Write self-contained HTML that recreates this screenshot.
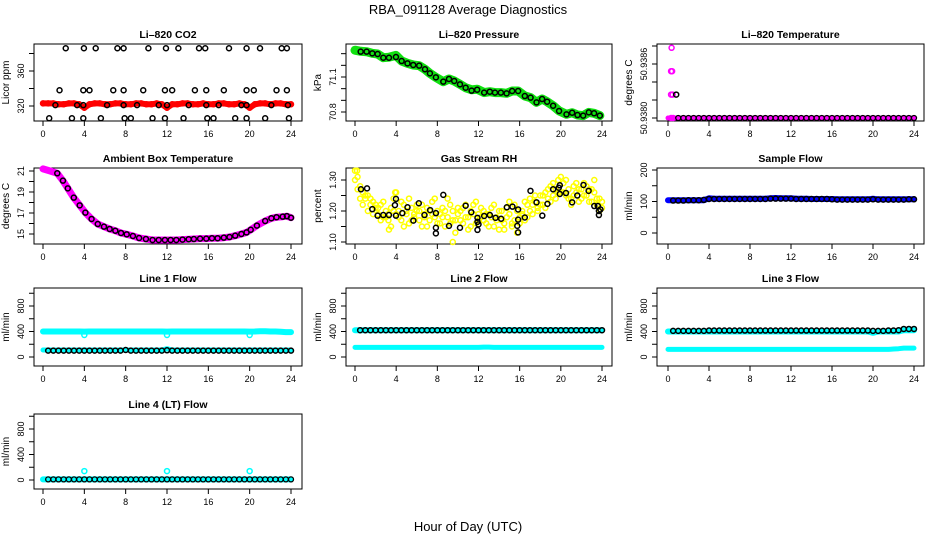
<!DOCTYPE html>
<html><head><meta charset="utf-8"><style>
html,body{margin:0;padding:0;background:#fff;}
svg{display:block;font-family:"Liberation Sans",Arial,sans-serif;}
</style></head><body>
<svg id="chart" width="936" height="540" viewBox="0 0 936 540" xmlns="http://www.w3.org/2000/svg">
<rect width="936" height="540" fill="#fff"/>
<text x="468" y="14" text-anchor="middle" font-size="13">RBA_091128  Average Diagnostics</text>
<text x="468" y="531" text-anchor="middle" font-size="13">Hour of Day (UTC)</text>
</svg>
<script>
const halfHours=[0,0.5,1,1.5,2,2.5,3,3.5,4,4.5,5,5.5,6,6.5,7,7.5,8,8.5,9,9.5,10,10.5,11,11.5,12,12.5,13,13.5,14,14.5,15,15.5,16,16.5,17,17.5,18,18.5,19,19.5,20,20.5,21,21.5,22,22.5,23,23.5,24];
const xTicks=[0,4,8,12,16,20,24];
// CO2
const co2Red=[323,323,323,322,322,323,323,322,318,322,323,323,322,322,323,323,322,322,323,323,322,322,323,322,318,322,322,323,323,322,322,323,322,322,323,323,322,322,323,322,318,322,323,323,322,323,323,322,322];
const co2Times=[2.2,3.96,5.1,7.2,7.8,10.2,11.9,13.1,15.1,15.7,18.0,19.7,21.0,23.1,23.6,1.6,3.9,4.5,6.8,7.8,9.7,11.8,12.5,14.7,15.8,17.5,19.7,20.4,22.6,23.6,0.6,2.8,3.9,5.6,7.9,8.5,10.6,11.8,13.6,15.9,16.5,18.6,19.7,21.5,23.8,1.2,3.3,3.9,6.2,7.8,9.1,11.2,12.0,14.1,15.8,17.0,19.2,19.7,22.1,23.7];
const co2Vals=[386,386,386,386,386,386,386,386,386,386,386,386,386,386,386,338,338,338,338,338,338,338,338,338,338,338,338,338,338,338,306,306,306,306,306,306,306,306,306,306,306,306,306,306,306,321,321,321,321,321,321,321,321,321,321,321,321,321,321,321];
// Pressure
const pTimes=[0.55,1.13,1.68,2.2,2.75,3.3,3.98,4.53,5.1,5.66,6.24,6.8,7.28,7.86,8.58,9.13,9.64,10.2,10.75,11.33,11.87,12.55,13.1,13.6,14.17,14.73,15.27,15.85,16.5,17.06,17.64,18.18,18.67,19.25,19.83,20.55,21.1,21.62,22.17,22.72,23.23,23.79];
const pVals=[71.317,71.317,71.303,71.297,71.265,71.265,71.271,71.237,71.217,71.203,71.197,71.166,71.131,71.097,71.06,71.083,71.066,71.037,71.008,70.983,70.991,70.966,70.974,70.966,70.966,70.96,70.98,70.98,70.937,70.923,70.883,70.911,70.888,70.854,70.809,70.78,70.794,70.774,70.769,70.797,70.789,70.769];
const pGreenTimes=[0,0.55,1.13,1.68,2.2,2.75,3.3,3.98,4.53,5.1,5.66,6.24,6.8,7.28,7.86,8.58,9.13,9.64,10.2,10.75,11.33,11.87,12.55,13.1,13.6,14.17,14.73,15.27,15.85,16.5,17.06,17.64,18.18,18.67,19.25,19.83,20.55,21.1,21.62,22.17,22.72,23.23,23.79];
const pGreenVals=[71.33,71.32,71.317,71.303,71.297,71.265,71.27,71.285,71.237,71.217,71.203,71.197,71.166,71.131,71.097,71.06,71.083,71.066,71.037,71.008,70.99,70.995,70.966,70.974,70.966,70.966,70.96,70.98,70.98,70.937,70.923,70.883,70.911,70.888,70.854,70.809,70.78,70.794,70.774,70.769,70.797,70.789,70.769];
// Li-820 temperature
const tMagTimes=[0.35,0.3,0.4,0.3,0.45,0.3,0.5];
const tMagVals=[50.93878,50.93852,50.93852,50.93826,50.93826,50.9380,50.9380];
const tBlackTimes=[0.8];
const tBlackVals=[50.93826];
// Ambient box temperature
const ambTimes=[0,0.7,1.38,1.93,2.4,2.98,3.55,4.1,4.7,5.3,5.9,6.45,7,7.55,8.1,8.7,9.3,9.96,10.6,11.2,11.8,12.35,12.9,13.5,14.1,14.6,15.2,15.8,16.35,16.9,17.5,18.05,18.6,19.2,19.7,20.1,20.7,21.5,22.1,22.6,23.2,23.6,24];
const ambVals=[21.2,21.0,20.78,20.08,19.35,18.46,17.73,17.03,16.43,15.95,15.7,15.48,15.31,15.1,14.97,14.81,14.62,14.52,14.43,14.43,14.43,14.43,14.43,14.47,14.5,14.52,14.56,14.56,14.6,14.6,14.65,14.71,14.84,15.0,15.15,15.4,15.8,16.24,16.5,16.6,16.65,16.7,16.55];
// Gas stream RH
const quarterHours=[0,0.25,0.5,0.75,1,1.25,1.5,1.75,2,2.25,2.5,2.75,3,3.25,3.5,3.75,4,4.25,4.5,4.75,5,5.25,5.5,5.75,6,6.25,6.5,6.75,7,7.25,7.5,7.75,8,8.25,8.5,8.75,9,9.25,9.5,9.75,10,10.25,10.5,10.75,11,11.25,11.5,11.75,12,12.25,12.5,12.75,13,13.25,13.5,13.75,14,14.25,14.5,14.75,15,15.25,15.5,15.75,16,16.25,16.5,16.75,17,17.25,17.5,17.75,18,18.25,18.5,18.75,19,19.25,19.5,19.75,20,20.25,20.5,20.75,21,21.25,21.5,21.75,22,22.25,22.5,22.75,23,23.25,23.5,23.75,24];
const rhYellowA=[1.33,1.31,1.28,1.26,1.24,1.25,1.22,1.23,1.21,
1.19,1.22,1.18,1.20,1.17,1.21,1.24,1.19,
1.20,1.17,1.22,1.19,1.16,1.21,1.18,1.20,
1.17,1.22,1.19,1.15,1.20,1.23,1.18,1.16,
1.19,1.21,1.15,1.18,1.22,1.17,1.13,1.19,
1.20,1.16,1.22,1.18,1.15,1.19,1.23,1.17,
1.18,1.20,1.16,1.19,1.21,1.15,1.18,1.20,
1.17,1.14,1.21,1.19,1.16,1.22,1.13,1.18,
1.20,1.17,1.22,1.24,1.19,1.23,1.21,1.25,
1.22,1.26,1.24,1.28,1.25,1.27,1.30,1.26,
1.29,1.25,1.27,1.24,1.28,1.26,1.23,1.27,
1.29,1.25,1.27,1.23,1.26,1.22,1.24,1.21];
const rhYellowB=[1.30,1.27,1.24,1.22,1.25,1.20,1.24,1.19,1.22,
1.21,1.17,1.23,1.18,1.19,1.15,1.20,1.26,
1.18,1.23,1.15,1.20,1.24,1.17,1.19,1.22,
1.20,1.15,1.18,1.21,1.17,1.19,1.24,1.20,
1.16,1.18,1.20,1.24,1.16,1.20,1.17,1.21,
1.17,1.21,1.18,1.14,1.20,1.22,1.16,1.19,
1.21,1.17,1.19,1.15,1.18,1.22,1.17,1.14,
1.20,1.16,1.18,1.23,1.15,1.17,1.20,1.16,
1.19,1.23,1.18,1.20,1.22,1.25,1.20,1.22,
1.25,1.21,1.27,1.23,1.29,1.24,1.26,1.31,
1.26,1.30,1.24,1.22,1.25,1.29,1.27,1.24,
1.25,1.28,1.23,1.27,1.30,1.24,1.20,1.23];
const rhOutTimes=[9.5,3.3,3.9,0.2];
const rhOutVals=[1.10,1.14,1.26,1.33];
const rhTimes=[0.58,1.17,1.68,2.2,2.75,3.3,3.88,3.98,3.98,4.6,5.1,5.67,6.2,6.75,7.3,7.86,7.86,7.86,8.58,9.13,10.2,10.75,11.3,11.9,11.9,12,11.9,12.55,13.1,13.65,14.2,14.75,15.3,15.85,15.85,15.77,15.85,16.5,17.05,17.64,18.2,18.7,19.25,19.8,19.9,19.9,20.5,21.1,21.6,22.2,22.7,23.25,23.6,23.7,23.85,23.7];
const rhVals=[1.27,1.273,1.206,1.185,1.187,1.187,1.219,1.239,1.185,1.193,1.212,1.169,1.225,1.187,1.203,1.193,1.146,1.128,1.252,1.152,1.146,1.217,1.196,1.178,1.165,1.157,1.139,1.184,1.187,1.178,1.175,1.212,1.214,1.205,1.172,1.152,1.131,1.179,1.265,1.228,1.185,1.223,1.27,1.275,1.283,1.255,1.258,1.228,1.25,1.284,1.265,1.216,1.216,1.187,1.205,1.2];
// Sample flow
const sfBlue=[104,104,104,104,104,104,104,104,110,109,109,109,109,109,109,109,109,109,109,109,110,111,110,110,110,109,109,109,108,108,108,108,108,107,107,107,107,107,107,107,109,107,107,107,107,107,107,107,107];
const sfBlack=[103,103,103,103,104,104,104,105,108,108,108,108,108,108,108,108,108,108,108,108,109,109,109,109,109,108,108,108,108,108,108,108,107,106,106,106,106,106,106,106,107,106,106,106,106,106,106,107,107];
// Line flows
const l1CyanHi=[400,400,400,400,400,400,400,400,398,400,400,400,400,400,400,400,400,400,400,400,400,400,400,400,398,400,400,400,400,400,400,400,400,400,400,400,400,400,400,400,398,400,405,405,400,400,395,390,390];
const l1CyanLo=[110,110,110,110,110,110,110,110,110,110,110,110,110,110,110,110,110,110,110,110,110,110,110,110,130,110,110,110,110,110,110,110,110,110,110,110,110,110,110,110,110,110,110,110,110,110,110,110,110];
const l1Black=[105,100,100,100,100,100,100,100,100,100,100,100,100,100,100,100,110,100,100,100,100,100,100,100,105,100,100,100,100,100,100,100,100,100,100,100,100,100,100,100,100,100,100,100,100,100,100,100,100];
const l1OutTimes=[4,12,20];
const l1OutVals=[345,345,345];
const l2CyanHi=[420,420,420,420,420,420,420,420,420,420,420,420,420,420,420,420,420,420,420,420,420,420,420,420,420,420,420,420,420,420,420,420,420,420,420,420,420,420,420,420,420,420,420,420,420,420,420,420,420];
const l2CyanLo=[150,150,150,150,150,150,150,150,150,150,150,150,150,150,150,150,150,150,150,150,150,150,150,150,150,155,155,150,150,150,150,150,150,150,150,150,150,150,150,150,150,150,150,150,150,150,150,150,150];
const l2Black=[420,420,420,420,420,420,420,420,420,420,420,420,420,420,420,420,420,420,420,420,420,420,420,420,420,420,420,420,420,420,420,420,420,420,420,420,420,420,420,420,420,420,420,420,420,420,420,420,420];
const l3CyanHi=[400,400,400,400,400,400,400,400,400,400,400,400,400,400,400,400,400,400,400,400,400,400,400,400,400,400,400,400,400,400,400,400,400,400,400,400,400,400,400,400,380,400,400,400,400,400,420,420,420];
const l3CyanLo=[120,120,120,120,120,120,120,120,120,120,120,120,120,120,120,120,120,120,120,120,120,120,120,120,120,120,120,120,120,120,120,120,120,120,120,120,120,120,120,120,120,120,120,120,125,130,140,140,140];
const l3Black=[410,410,410,410,410,410,410,410,415,415,415,415,415,415,415,415,415,415,415,415,415,415,415,415,415,415,415,415,415,415,415,415,415,415,415,415,415,415,415,415,410,410,410,415,415,420,440,440,440];
const l4Cyan=[10,10,10,10,10,10,10,10,10,10,10,10,10,10,10,10,10,10,10,10,10,10,10,10,10,10,10,10,10,10,10,10,10,10,10,10,10,10,10,10,10,10,10,10,10,10,10,10,10];
const l4Black=[10,10,10,10,10,10,10,10,10,10,10,10,10,10,10,10,10,10,10,10,10,10,10,10,10,10,10,10,10,10,10,10,10,10,10,10,10,10,10,10,10,10,10,10,10,10,10,10,10];
const l4OutTimes=[4,12,20];
const l4OutVals=[140,140,140];
const tBlackFlat=[50.938,50.938,50.938,50.938,50.938,50.938,50.938,50.938,50.938,50.938,50.938,50.938,50.938,50.938,50.938,50.938,50.938,50.938,50.938,50.938,50.938,50.938,50.938,50.938,50.938,50.938,50.938,50.938,50.938,50.938,50.938,50.938,50.938,50.938,50.938,50.938,50.938,50.938,50.938,50.938,50.938,50.938,50.938,50.938,50.938,50.938,50.938,50.938,50.938];

const NS='http://www.w3.org/2000/svg';
const svg=document.getElementById('chart');
function el(tag,attrs,parent){const e=document.createElementNS(NS,tag);for(const k in attrs)e.setAttribute(k,attrs[k]);(parent||svg).appendChild(e);return e;}

const cols=[{l:34,r:302,x0:43,x24:291},{l:346,r:612,x0:355,x24:602},{l:657,r:924,x0:668,x24:914}];
const rows=[{t:44,b:121},{t:168,b:244},{t:288,b:366},{t:414,b:489}];

function panel(name,title,ytitle,ci,ri,yA,yB,yTicks,yLabels){
  const c=cols[ci],r=rows[ri];
  const g=el('g',{});
  
  
  const sx=h=>c.x0+(h/24)*(c.x24-c.x0);
  const sy=v=>yA[1]+(v-yA[0])*(yB[1]-yA[1])/(yB[0]-yA[0]);
  const box=el('rect',{x:c.l,y:r.t,width:c.r-c.l,height:r.b-r.t,fill:'none',stroke:'#000','stroke-width':1},g);
  
  
  const tt=el('text',{x:(c.l+c.r)/2,y:r.t-6,'text-anchor':'middle','font-size':10.5,'font-weight':'bold'},g);
  tt.textContent=title;
  
  
  const yt=el('text',{x:c.l-25,y:(r.t+r.b)/2,'text-anchor':'middle','font-size':10,transform:`rotate(-90 ${c.l-25} ${(r.t+r.b)/2})`},g);
  yt.textContent=ytitle;
  
  
  const xa=el('g',{},g);
  
  
  el('line',{x1:sx(0),x2:sx(24),y1:r.b,y2:r.b,stroke:'#000'},xa);
  xTicks.forEach(t=>{
    el('line',{x1:sx(t),x2:sx(t),y1:r.b,y2:r.b+5,stroke:'#000'},xa);
    const lb=el('text',{x:sx(t),y:r.b+16,'text-anchor':'middle','font-size':9},xa);
    lb.textContent=t;
    
    
  });
  const ya=el('g',{},g);
  
  
  el('line',{x1:c.l,x2:c.l,y1:sy(yTicks[0]),y2:sy(yTicks[yTicks.length-1]),stroke:'#000'},ya);
  yTicks.forEach(t=>el('line',{x1:c.l-5,x2:c.l,y1:sy(t),y2:sy(t),stroke:'#000'},ya));
  yLabels.forEach(t=>{
    const yy=sy(parseFloat(t));
    const lb=el('text',{x:c.l-10,y:yy,'text-anchor':'middle','font-size':9,transform:`rotate(-90 ${c.l-10} ${yy})`},ya);
    lb.textContent=t;
    
    
  });
  const marks=el('g',{},g);
  
  
  return {
    band(times,vals,color,w){
      const d=times.map((t,i)=>(i?'L':'M')+sx(t).toFixed(1)+' '+sy(vals[i]).toFixed(1)).join(' ');
      const p=el('path',{d,fill:'none',stroke:color,'stroke-width':w,'stroke-linecap':'round','stroke-linejoin':'round'},marks);
      
      
    },
    pts(times,vals,color,rad,sw){
      times.forEach((t,i)=>{
        const ci2=el('circle',{cx:sx(t),cy:sy(vals[i]),r:rad||2.5,fill:'none',stroke:color,'stroke-width':sw||1.5},marks);
        
        
      });
    }
  };
}

let p;
p=panel('co2','Li\u2013820 CO2','Licor ppm',0,0,[320,106],[360,71],[320,340,360,380],['320','360']);
p.band(halfHours,co2Red,'#f00',6);p.pts(halfHours,co2Red,'#f00',2.5,1.5);p.pts(co2Times,co2Vals,'#000');

p=panel('pressure','Li\u2013820 Pressure','kPa',1,0,[70.8,112],[71.1,77],[70.8,70.9,71.0,71.1,71.2,71.3],['70.8','71.1']);
p.band(pGreenTimes,pGreenVals,'#10e010',9);p.pts(pTimes,pVals,'#000');

p=panel('li820-temp','Li\u2013820 Temperature','degrees C',2,0,[50.938,118],[50.9386,64],[50.938,50.9382,50.9384,50.9386,50.9388],['50.9380','50.9386']);
p.band(halfHours,tBlackFlat,'#ff00ff',5);p.pts(tMagTimes,tMagVals,'#ff00ff');p.pts(tBlackTimes,tBlackVals,'#000');p.pts(halfHours.slice(2),tBlackFlat.slice(2),'#000',2.5,1.3);

p=panel('ambient-temp','Ambient Box Temperature','degrees C',0,1,[15,234],[21,171],[15,16,17,18,19,20,21],['15','17','19','21']);
p.band(ambTimes,ambVals,'#ff00ff',7);p.pts(ambTimes.slice(2),ambVals.slice(2),'#000');

p=panel('gas-rh','Gas Stream RH','percent',1,1,[1.1,242],[1.3,180],[1.1,1.15,1.2,1.25,1.3],['1.10','1.20','1.30']);
p.pts(quarterHours,rhYellowA,'#ffff00');p.pts(quarterHours,rhYellowB,'#ffff00');p.pts(rhOutTimes,rhOutVals,'#ffff00');p.pts(rhTimes,rhVals,'#000');

p=panel('sample-flow','Sample Flow','ml/min',2,1,[0,233],[200,170],[0,50,100,150,200],['0','100','200']);
p.band(halfHours,sfBlue,'#0000ff',6);p.pts(halfHours.slice(1),sfBlack.slice(1),'#000');

const flowTicks=[0,200,400,600,800,1000],flowLabels=['0','400','800'];
p=panel('line1-flow','Line 1 Flow','ml/min',0,2,[0,357],[800,306],flowTicks,flowLabels);
p.band(halfHours,l1CyanHi,'#00ffff',6);p.band(halfHours,l1CyanLo,'#00ffff',5);p.pts(l1OutTimes,l1OutVals,'#00ffff');p.pts(halfHours.slice(1),l1Black.slice(1),'#000');

p=panel('line2-flow','Line 2 Flow','ml/min',1,2,[0,357],[800,306],flowTicks,flowLabels);
p.band(halfHours,l2CyanHi,'#00ffff',6);p.band(halfHours,l2CyanLo,'#00ffff',5);p.pts(halfHours.slice(1),l2Black.slice(1),'#000');

p=panel('line3-flow','Line 3 Flow','ml/min',2,2,[0,357],[800,306],flowTicks,flowLabels);
p.band(halfHours,l3CyanHi,'#00ffff',6);p.band(halfHours,l3CyanLo,'#00ffff',5);p.pts(halfHours.slice(1),l3Black.slice(1),'#000');

p=panel('line4-flow','Line 4 (LT) Flow','ml/min',0,3,[0,480],[800,429],flowTicks,flowLabels);
p.band(halfHours,l4Cyan,'#00ffff',6);p.pts(l4OutTimes,l4OutVals,'#00ffff');p.pts(halfHours.slice(1),l4Black.slice(1),'#000',2.5,1.3);
</script>
</body></html>
